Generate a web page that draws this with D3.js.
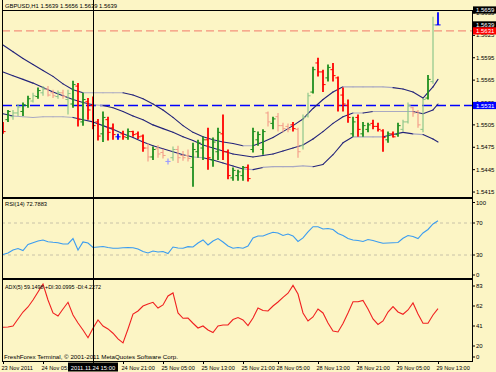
<!DOCTYPE html>
<html><head><meta charset="utf-8">
<script src="https://cdn.jsdelivr.net/npm/d3@7"></script>
<style>
html,body{margin:0;padding:0;background:#fcf5c5;}
svg{display:block;}
text{font-family:"Liberation Sans",Arial,sans-serif;}
</style></head><body>
<svg id="c" width="496" height="372"></svg>
<script>
// ---------------- DATA ----------------
const symbol = "GBPUSD,H1";
const lastOHLC = [1.5639, 1.5656, 1.5639, 1.5639];
const copyright = "FreshForex Terminal, \u00a9 2001-2011 MetaQuotes Software Corp.";

const open  = [1.5507,1.5512,1.5516,1.5521,1.5523,1.5531,1.5537,1.5543,1.5548,1.5553,
               1.5548,1.5543,1.5548,1.5539,1.5533,1.5557,1.5509,1.5536,1.5531,1.5509,
               1.5493,1.5512,1.5501,1.5489,1.5493,1.5488,1.5496,1.5493,1.5490,1.5474,
               1.5462,1.5473,1.5468,1.5456,1.5461,1.5472,1.5464,1.5464,1.5448,1.5469,
               1.5474,1.5485,1.5458,1.5469,1.5493,1.5469,1.5434,1.5437,1.5437,1.5448,
               1.5472,1.5485,1.5472,1.5521,1.5507,1.5516,1.5504,1.5503,1.5505,1.5499,
               1.5477,1.5517,1.5549,1.5588,1.5576,1.5568,1.5579,1.5568,1.5545,1.5531,
               1.5493,1.5515,1.5493,1.5499,1.5507,1.5503,1.5497,1.5485,1.5493,1.5492,
               1.5499,1.5509,1.5528,1.5523,1.5499,1.5541,1.5563,1.5639];
const high  = [1.5509,1.5525,1.5525,1.5533,1.5535,1.5544,1.5548,1.5555,1.5557,1.5557,
               1.5552,1.5551,1.5552,1.5552,1.5564,1.5561,1.5548,1.5541,1.5543,1.5513,
               1.5523,1.5516,1.5507,1.5493,1.5497,1.5500,1.5497,1.5496,1.5492,1.5480,
               1.5476,1.5478,1.5473,1.5460,1.5476,1.5477,1.5470,1.5472,1.5481,1.5485,
               1.5489,1.5501,1.5488,1.5501,1.5519,1.5472,1.5448,1.5445,1.5450,1.5452,
               1.5501,1.5496,1.5499,1.5523,1.5516,1.5521,1.5508,1.5507,1.5509,1.5501,
               1.5519,1.5548,1.5583,1.5595,1.5579,1.5586,1.5588,1.5570,1.5555,1.5539,
               1.5516,1.5519,1.5509,1.5508,1.5512,1.5508,1.5499,1.5496,1.5496,1.5508,
               1.5512,1.5535,1.5529,1.5525,1.5540,1.5572,1.5650,1.5656];
const low   = [1.5493,1.5509,1.5512,1.5517,1.5517,1.5528,1.5535,1.5540,1.5544,1.5543,
               1.5541,1.5540,1.5540,1.5519,1.5528,1.5503,1.5504,1.5512,1.5499,1.5484,
               1.5482,1.5484,1.5485,1.5485,1.5485,1.5485,1.5489,1.5486,1.5469,1.5456,
               1.5458,1.5461,1.5460,1.5452,1.5457,1.5454,1.5457,1.5456,1.5422,1.5461,
               1.5458,1.5445,1.5449,1.5458,1.5458,1.5432,1.5430,1.5430,1.5430,1.5429,
               1.5468,1.5477,1.5465,1.5503,1.5499,1.5496,1.5495,1.5495,1.5496,1.5461,
               1.5472,1.5515,1.5547,1.5570,1.5549,1.5563,1.5563,1.5523,1.5523,1.5508,
               1.5489,1.5489,1.5489,1.5495,1.5499,1.5496,1.5469,1.5481,1.5488,1.5489,
               1.5496,1.5507,1.5516,1.5501,1.5495,1.5539,1.5560,1.5639];
const close = [1.5496,1.5523,1.5521,1.5529,1.5532,1.5540,1.5544,1.5551,1.5553,1.5545,
               1.5544,1.5548,1.5543,1.5547,1.5559,1.5512,1.5539,1.5525,1.5504,1.5490,
               1.5515,1.5495,1.5492,1.5489,1.5489,1.5496,1.5492,1.5489,1.5474,1.5462,
               1.5472,1.5466,1.5464,1.5456,1.5472,1.5461,1.5461,1.5460,1.5472,1.5481,
               1.5485,1.5461,1.5482,1.5495,1.5469,1.5437,1.5444,1.5442,1.5448,1.5433,
               1.5496,1.5492,1.5496,1.5509,1.5513,1.5504,1.5500,1.5499,1.5500,1.5469,
               1.5515,1.5544,1.5579,1.5576,1.5559,1.5582,1.5571,1.5531,1.5533,1.5515,
               1.5509,1.5499,1.5504,1.5505,1.5503,1.5499,1.5488,1.5493,1.5489,1.5504,
               1.5509,1.5531,1.5521,1.5505,1.5539,1.5566,1.5639,1.5639];
// 1 = strong bar, 0 = weak bar
const strength = [1,1,0,0,1,1,0,1,0,0, 0,0,0,0,1,1,1,1,1,1, 1,1,1,1,1,1,1,1,1,0,
                  1,0,0,0,0,0,0,0,1,1, 1,1,1,1,1,1,1,1,1,1, 1,1,1,0,1,0,0,0,1,0,
                  0,0,1,1,1,1,1,1,1,1, 1,1,1,1,1,1,1,1,1,1, 0,0,0,0,0,1,0,1];

// Bollinger-type bands, read at every second bar (+ last bar)
const bandIndex = [0,2,4,6,8,10,12,14,16,18,20,22,24,26,28,30,32,34,36,38,40,42,44,
                   46,48,50,52,54,56,58,60,62,64,66,68,70,72,74,76,78,80,82,84,86,87];
const bandUpper = [1.5612,1.5603,1.5594,1.5586,1.5578,1.5570,1.5560,1.5552,1.5548,1.5548,
                   1.5548,1.5548,1.5548,1.5545,1.5540,1.5533,1.5525,1.5515,1.5504,1.5495,
                   1.5489,1.5485,1.5482,1.5480,1.5477,1.5477,1.5482,1.5488,1.5496,1.5504,
                   1.5513,1.5527,1.5539,1.5549,1.5556,1.5556,1.5556,1.5556,1.5556,1.5555,
                   1.5553,1.5549,1.5541,1.5556,1.5566];
const bandMiddle= [1.5576,1.5571,1.5566,1.5561,1.5555,1.5549,1.5544,1.5539,1.5535,1.5532,
                   1.5531,1.5528,1.5523,1.5517,1.5512,1.5505,1.5500,1.5495,1.5489,1.5484,
                   1.5478,1.5474,1.5470,1.5466,1.5464,1.5462,1.5464,1.5466,1.5470,1.5474,
                   1.5478,1.5486,1.5496,1.5507,1.5516,1.5521,1.5521,1.5523,1.5523,1.5523,
                   1.5523,1.5523,1.5520,1.5525,1.5533];
const bandLower = [1.5520,1.5517,1.5516,1.5515,1.5516,1.5516,1.5516,1.5515,1.5512,1.5509,
                   1.5504,1.5499,1.5493,1.5488,1.5482,1.5477,1.5473,1.5469,1.5465,1.5462,
                   1.5461,1.5458,1.5454,1.5450,1.5446,1.5445,1.5448,1.5449,1.5449,1.5449,
                   1.5450,1.5449,1.5452,1.5465,1.5481,1.5489,1.5489,1.5489,1.5489,1.5492,
                   1.5495,1.5493,1.5492,1.5486,1.5482];

const rsi = [30.6,32.5,36.3,38.1,35.6,43.1,45.4,47.5,48.8,46.6,
             45.9,45.4,43.8,43.8,50.6,36.3,46.3,45.0,39.4,40.0,
             40.6,39.4,38.4,38.4,39.1,39.4,39.1,37.5,34.4,32.5,
             35.0,33.8,34.4,31.9,40.0,38.8,38.4,40.4,40.0,45.0,
             48.8,42.5,47.5,50.6,46.3,41.3,38.4,39.4,38.4,41.3,
             51.3,53.8,53.8,56.3,58.4,57.5,54.4,56.3,53.8,46.9,
             51.3,58.8,65.4,65.4,62.5,63.1,61.9,56.9,54.4,50.6,
             48.8,48.1,46.9,49.4,48.1,46.3,44.6,45.0,45.4,45.6,
             50.9,54.4,53.1,50.6,57.5,61.9,68.8,72.7883];
const adx = [39.7,40.0,41.0,48.4,55.7,61.0,68.3,76.7,85.1,68.3,
             54.7,51.5,58.9,65.9,52.6,44.2,36.8,28.7,38.6,47.3,
             41.0,37.9,33.4,27.4,23.2,37.9,53.6,56.8,62.0,64.1,
             65.9,59.9,63.1,72.5,75.7,54.7,49.1,49.4,43.9,38.9,
             41.0,36.8,34.2,41.0,42.1,42.1,47.8,49.9,47.3,41.5,
             49.4,59.9,57.3,56.8,62.0,66.2,71.0,75.4,83.6,74.6,
             54.7,46.3,50.5,58.9,54.7,44.2,35.8,34.7,43.6,54.7,
             66.5,66.5,67.8,58.9,48.4,42.6,46.3,55.7,61.3,55.7,
             53.3,57.8,65.2,53.6,43.9,43.9,52.6,59.1498];
const plusDI = 30.0995, minusDI = 4.2272;

const priceTicks = [1.5655,1.5625,1.5595,1.5565,1.5535,1.5505,1.5475,1.5445,1.5415];
const priceBoxes = [{v:1.5659,c:"#000000"},{v:1.5639,c:"#000000"},{v:1.5631,c:"#ff0000"},{v:1.5531,c:"#0000ff"}];
const levelRed = 1.5631, levelBlue = 1.5531, levelTop = 1.5659;
const rsiTicks = [100,70,30,0];
const rsiLevels = [70,30];
const adxTicks = [83,62,41,20,0];
const timeTicks = [{i:0,t:"23 Nov 2011"},{i:8,t:"24 Nov 05:00"},
                   {i:24,t:"24 Nov 21:00"},{i:32,t:"25 Nov 05:00"},{i:40,t:"25 Nov 13:00"},
                   {i:48,t:"25 Nov 21:00"},{i:55,t:"28 Nov 05:00"},{i:63,t:"28 Nov 13:00"},
                   {i:71,t:"28 Nov 21:00"},{i:79,t:"29 Nov 05:00"},{i:87,t:"29 Nov 13:00"}];
const crossIdx = 18, crossLabel = "2011.11.24 15:00";

// ---------------- DRAW ----------------
const svg = d3.select("#c");
const L = 2, R = 472;
const mainTop = 10, mainBot = 198, rsiTop = 199, rsiBot = 279, adxTop = 280, adxBot = 361;

svg.append("rect").attr("width",496).attr("height",372).attr("fill","#fcf5c5");

const x = d3.scaleLinear().domain([0, open.length-1]).range([3, 438]);
const y = d3.scaleLinear().domain([1.5407, 1.5659]).range([mainBot, mainTop]);
const yr = d3.scaleLinear().domain([0,100]).range([rsiBot, rsiTop]);
const ya = d3.scaleLinear().domain([20,62]).range([346,306]);

const defs = svg.append("defs");
defs.append("clipPath").attr("id","cm").append("rect").attr("x",L).attr("y",0).attr("width",R-L).attr("height",mainBot);
defs.append("clipPath").attr("id","cr").append("rect").attr("x",L).attr("y",rsiTop).attr("width",R-L).attr("height",rsiBot-rsiTop);
defs.append("clipPath").attr("id","ca").append("rect").attr("x",L).attr("y",adxTop).attr("width",R-L).attr("height",adxBot-adxTop);

const gm = svg.append("g").attr("clip-path","url(#cm)");

// horizontal level lines
gm.append("line").attr("x1",L).attr("x2",R).attr("y1",Math.round(y(levelTop))+0.5).attr("y2",Math.round(y(levelTop))+0.5)
  .attr("stroke","#000").attr("stroke-width",1);
gm.append("line").attr("x1",L).attr("x2",R).attr("y1",y(levelRed)).attr("y2",y(levelRed))
  .attr("stroke","#f4917c").attr("stroke-width",1.2).attr("stroke-dasharray","8,4");
gm.append("line").attr("x1",L).attr("x2",R).attr("y1",y(levelBlue)).attr("y2",y(levelBlue))
  .attr("stroke","#0000ff").attr("stroke-width",1.6).attr("stroke-dasharray","10,4");

// bands
function drawBand(vals){
  for(let k=0;k<vals.length-1;k++){
    const flat = Math.abs(vals[k+1]-vals[k]) < 0.00015;
    gm.append("line")
      .attr("x1",x(bandIndex[k])).attr("y1",y(vals[k]))
      .attr("x2",x(bandIndex[k+1])).attr("y2",y(vals[k+1]))
      .attr("stroke", flat ? "#a9a9c2" : "#23237a").attr("stroke-width",1.1)
      .attr("stroke-linecap","round");
  }
}
drawBand(bandUpper); drawBand(bandMiddle); drawBand(bandLower);

// OHLC bars
function barColor(i){
  const s = strength[i];
  if (Math.abs(close[i]-open[i]) < 1e-9) return s ? "#0000ff" : "#9a9aff";
  if (close[i] > open[i]) return s ? "#1f8f1f" : "#8ec68a";
  return s ? "#ff0000" : "#f3a08a";
}
open.forEach((o,i)=>{
  const cx = x(i), col = barColor(i), w = strength[i] ? 1.8 : 1.2;
  gm.append("line").attr("x1",cx).attr("x2",cx).attr("y1",y(high[i])).attr("y2",y(low[i]))
    .attr("stroke",col).attr("stroke-width",w);
  gm.append("line").attr("x1",cx-2.6).attr("x2",cx).attr("y1",y(o)).attr("y2",y(o))
    .attr("stroke",col).attr("stroke-width",1);
  gm.append("line").attr("x1",cx).attr("x2",cx+2.6).attr("y1",y(close[i])).attr("y2",y(close[i]))
    .attr("stroke",col).attr("stroke-width",1);
});

// RSI panel
const gr = svg.append("g").attr("clip-path","url(#cr)");
rsiLevels.forEach(v=>{
  gr.append("line").attr("x1",L).attr("x2",R).attr("y1",yr(v)).attr("y2",yr(v))
    .attr("stroke","#c8c2a8").attr("stroke-width",1).attr("stroke-dasharray","3,3");
});
gr.append("path").datum(rsi)
  .attr("d", d3.line().x((d,i)=>x(i)).y(d=>yr(d)))
  .attr("fill","none").attr("stroke","#3b9cf0").attr("stroke-width",1.1);

// ADX panel
const ga = svg.append("g").attr("clip-path","url(#ca)");
ga.append("path").datum(adx)
  .attr("d", d3.line().x((d,i)=>x(i)).y(d=>ya(d)))
  .attr("fill","none").attr("stroke","#f02020").attr("stroke-width",1.1);

// frames
const frame = svg.append("g").attr("stroke","#000").attr("fill","none");
frame.append("line").attr("x1",L+0.5).attr("x2",L+0.5).attr("y1",0).attr("y2",adxBot);
frame.append("line").attr("x1",R+0.5).attr("x2",R+0.5).attr("y1",mainTop).attr("y2",adxBot);
frame.append("line").attr("x1",L).attr("x2",R+1).attr("y1",mainBot).attr("y2",mainBot).attr("stroke-width",2);
frame.append("line").attr("x1",L).attr("x2",R+1).attr("y1",rsiBot).attr("y2",rsiBot).attr("stroke-width",2);
frame.append("line").attr("x1",L).attr("x2",R+1).attr("y1",adxBot+0.5).attr("y2",adxBot+0.5);

// crosshair
svg.append("line").attr("x1",x(crossIdx)+0.5).attr("x2",x(crossIdx)+0.5).attr("y1",0).attr("y2",363)
  .attr("stroke","#000").attr("stroke-width",1);

// right price axis
const fs = 6;
priceTicks.forEach(v=>{
  svg.append("line").attr("x1",R).attr("x2",R+3).attr("y1",y(v)).attr("y2",y(v)).attr("stroke","#000");
  svg.append("text").attr("x",476).attr("y",y(v)).attr("dy","0.35em").attr("font-size",fs).attr("fill","#000")
    .text(v.toFixed(4));
});
priceBoxes.forEach(b=>{
  const cy = y(b.v);
  svg.append("rect").attr("x",R+1).attr("y",cy-3.6).attr("width",496-R-1).attr("height",7.2).attr("fill",b.c);
  svg.append("text").attr("x",476).attr("y",cy).attr("dy","0.35em").attr("font-size",fs).attr("fill","#fff")
    .text(b.v.toFixed(4));
});

// RSI axis
rsiTicks.forEach(v=>{
  const yy = Math.max(rsiTop+3.5, Math.min(rsiBot-4, yr(v)));
  svg.append("line").attr("x1",R).attr("x2",R+3).attr("y1",yy).attr("y2",yy).attr("stroke","#000");
  svg.append("text").attr("x",476).attr("y",yy).attr("dy","0.35em").attr("font-size",fs).text(v);
});
// ADX axis
adxTicks.forEach(v=>{
  const yy = Math.max(adxTop+5, Math.min(adxBot-4, ya(v)));
  svg.append("line").attr("x1",R).attr("x2",R+3).attr("y1",yy).attr("y2",yy).attr("stroke","#000");
  svg.append("text").attr("x",476).attr("y",yy).attr("dy","0.35em").attr("font-size",fs).text(v);
});

// time axis
timeTicks.forEach(d=>{
  svg.append("line").attr("x1",x(d.i)+0.5).attr("x2",x(d.i)+0.5).attr("y1",adxBot).attr("y2",adxBot+3).attr("stroke","#000");
  svg.append("text").attr("x",x(d.i)-1.5).attr("y",369.5).attr("font-size",5.6).attr("fill","#000").text(d.t);
});
svg.append("rect").attr("x",x(crossIdx)-25).attr("y",362.5).attr("width",50).attr("height",9).attr("fill","#000");
svg.append("text").attr("x",x(crossIdx)).attr("y",369.5).attr("text-anchor","middle").attr("font-size",5.8)
  .attr("fill","#fff").text(crossLabel);

// panel labels
svg.append("text").attr("x",5).attr("y",8.2).attr("font-size",5.9).attr("fill","#000")
  .attr("textLength",112).attr("lengthAdjust","spacingAndGlyphs")
  .text(symbol+" "+lastOHLC.map(v=>v.toFixed(4)).join(" "));
svg.append("text").attr("x",5).attr("y",206.3).attr("font-size",5.9).attr("fill","#000")
  .attr("textLength",42).attr("lengthAdjust","spacingAndGlyphs")
  .text("RSI(14) "+rsi[rsi.length-1].toFixed(4));
svg.append("text").attr("x",5).attr("y",289).attr("font-size",5.9).attr("fill","#000")
  .attr("textLength",96).attr("lengthAdjust","spacingAndGlyphs")
  .text("ADX(5) "+adx[adx.length-1].toFixed(4)+" +DI:"+plusDI.toFixed(4)+" -DI:"+minusDI.toFixed(4));
svg.append("text").attr("x",4).attr("y",359).attr("font-size",5.9).attr("fill","#000")
  .attr("textLength",174).attr("lengthAdjust","spacingAndGlyphs")
  .text(copyright);
</script>
</body></html>
